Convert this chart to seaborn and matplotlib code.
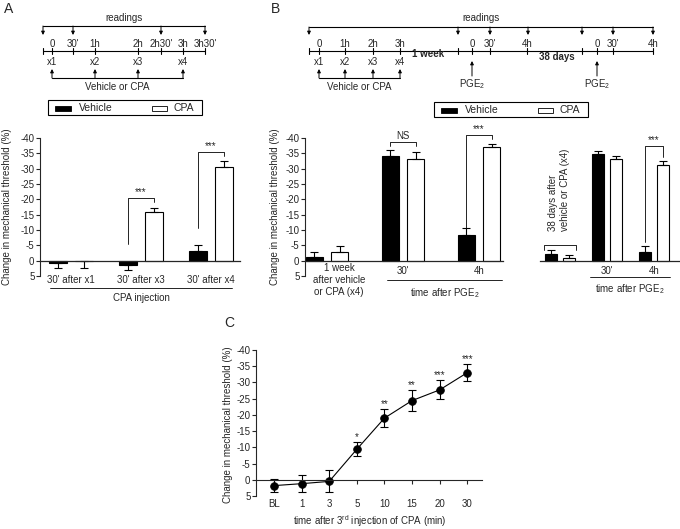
import numpy as np
import pandas as pd
import matplotlib
matplotlib.use('Agg')
import matplotlib.pyplot as plt
import matplotlib.transforms as mtransforms
from matplotlib.patches import Rectangle
import seaborn as sns

sns.set_style('ticks')
plt.rcParams['font.family'] = ['Liberation Sans', 'DejaVu Sans']
plt.rcParams['font.size'] = 7
plt.rcParams['axes.unicode_minus'] = False
plt.rcParams['mathtext.fontset'] = 'custom'
plt.rcParams['mathtext.rm'] = 'Liberation Sans'
plt.rcParams['mathtext.default'] = 'regular'

# ---- data (change in mechanical threshold, %; negative = hyperalgesia) ----
treatments = ['Vehicle', 'CPA']

a_groups = ["30' after x1", "30' after x3", "30' after x4"]
a_vehicle = [0.8, 1.3, -3.2]
a_vehicle_sem = [1.6, 1.6, 2.0]
a_cpa = [0.2, -16.0, -30.5]
a_cpa_sem = [2.2, 1.1, 1.9]

b_groups = ['1 week\nafter vehicle\nor CPA (x4)', "30'", '4h']
b_vehicle = [-1.2, -34.1, -8.4]
b_vehicle_sem = [1.7, 1.9, 2.2]
b_cpa = [-2.7, -33.3, -37.0]
b_cpa_sem = [2.2, 2.0, 1.0]

b2_groups = ['38 days after\nvehicle or CPA (x4)', "30'", '4h']
b2_vehicle = [-2.2, -34.8, -2.9]
b2_vehicle_sem = [1.4, 1.0, 2.0]
b2_cpa = [-0.9, -33.2, -31.2]
b2_cpa_sem = [0.8, 1.0, 1.3]

c_times = ['BL', '1', '3', '5', '10', '15', '20', '30']
c_mean = [1.8, 1.2, 0.5, -9.4, -19.0, -24.4, -27.7, -33.0]
c_sem = [1.9, 2.7, 3.4, 2.2, 2.8, 3.2, 2.9, 2.6]
c_stars = ['', '', '', '*', '**', '**', '***', '***']

yticks = np.arange(-40, 10, 5)
ylab = 'Change in mechanical threshold (%)'

W, H = 680, 529
fig = plt.figure(figsize=(W / 100, H / 100), dpi=100)


def px_axes(x0, y0, x1, y1):
    return fig.add_axes([x0 / W, 1 - y1 / H, (x1 - x0) / W, (y1 - y0) / H])


def bar_panel(ax, groups, veh, veh_sem, cpa, cpa_sem, width, gap, xlim, pad):
    df = pd.DataFrame({
        'group': groups * 2,
        'treatment': ['Vehicle'] * len(groups) + ['CPA'] * len(groups),
        'value': veh + cpa,
    })
    sns.barplot(data=df, x='group', y='value', hue='treatment', order=groups,
                hue_order=treatments, palette={'Vehicle': 'black', 'CPA': 'white'},
                edgecolor='black', linewidth=0.8, width=width, gap=gap, saturation=1,
                errorbar=None, legend=False, ax=ax)
    bars = sorted(ax.patches, key=lambda p: p.get_x())
    vals = [v for pair in zip(veh, cpa) for v in pair]
    sems = [e for pair in zip(veh_sem, cpa_sem) for e in pair]
    centers = []
    for bar, v, e in zip(bars, vals, sems):
        xc = bar.get_x() + bar.get_width() / 2
        centers.append(xc)
        lo, hi = (e, 0) if v <= 0 else (0, e)
        ax.errorbar(xc, v, yerr=[[lo], [hi]], fmt='none', ecolor='black',
                    elinewidth=0.8, capsize=3, capthick=0.8)
    ax.set_ylim(5, -40)
    ax.set_xlim(*xlim)
    ax.set_yticks(yticks)
    ax.set_yticklabels([str(t) for t in yticks])
    ax.set_xlabel('')
    ax.set_ylabel('')
    sns.despine(ax=ax, top=True, right=True)
    ax.spines['bottom'].set_position(('data', 0))
    ax.spines['bottom'].set_linewidth(0.9)
    ax.spines['left'].set_linewidth(0.8)
    ax.tick_params(axis='x', length=0, pad=pad)
    ax.tick_params(axis='y', length=3, width=0.8, pad=1)
    return centers


def sig(ax, x1, x2, y, y1, y2, label):
    ax.plot([x1, x1, x2, x2], [y1, y, y, y2], color='black', lw=0.6, clip_on=False)
    ax.text((x1 + x2) / 2, y - 0.3, label, ha='center', va='bottom', fontsize=7, clip_on=False)


# ---- panel A bars ----
ax_a = px_axes(40, 138, 240, 276)
ca = bar_panel(ax_a, a_groups, a_vehicle, a_vehicle_sem, a_cpa, a_cpa_sem,
               0.743, 0.31, (-0.443, 2.414), 10.5)
ax_a.set_ylabel(ylab)
ax_a.yaxis.set_label_coords(-0.14, 0.5)
sig(ax_a, ca[2], ca[3], -20.3, -5.5, -19.0, '***')
sig(ax_a, ca[4], ca[5], -35.4, -10.6, -34.0, '***')

# ---- panel B bars (left) ----
ax_b = px_axes(305, 138, 503, 276)
cb = bar_panel(ax_b, b_groups, b_vehicle, b_vehicle_sem, b_cpa, b_cpa_sem,
               0.668, 0.33, (-0.289, 2.316), 4)
ax_b.set_ylabel(ylab)
ax_b.yaxis.set_label_coords(-0.125, 0.5)
for lbl in ax_b.get_xticklabels():
    lbl.set_linespacing(1.25)
first = ax_b.get_xticklabels()[0]
first.set_transform(first.get_transform() +
                    mtransforms.ScaledTranslation(0.12, 0.03, fig.dpi_scale_trans))
sig(ax_b, cb[2], cb[3], -38.8, -37.4, -37.4, 'NS')
sig(ax_b, cb[4], cb[5], -41.0, -10.8, -39.7, '***')

# ---- panel B bars (right, 38 days) ----
ax_b2 = px_axes(540, 138, 680, 276)
cb2 = bar_panel(ax_b2, b2_groups, b2_vehicle, b2_vehicle_sem, b2_cpa, b2_cpa_sem,
                0.745, 0.31, (-0.426, 2.553), 4)
ax_b2.spines['left'].set_visible(False)
ax_b2.tick_params(axis='y', left=False, labelleft=False)
ax_b2.get_xticklabels()[0].set_visible(False)
sig(ax_b2, cb2[4], cb2[5], -37.4, -6.2, -33.8, '***')

# ---- panel C time course ----
ax_c = px_axes(256, 350, 482, 496)
dfc = pd.DataFrame({'time': c_times, 'change': c_mean})
sns.pointplot(data=dfc, x='time', y='change', order=c_times, color='black',
              markers='o', markersize=5.5, linewidth=0.8, errorbar=None, ax=ax_c)
xs = ax_c.lines[0].get_xdata()
ax_c.errorbar(xs, c_mean, yerr=c_sem, fmt='none', ecolor='black',
              elinewidth=0.8, capsize=3, capthick=0.8)
for x, v, e, s in zip(xs, c_mean, c_sem, c_stars):
    if s:
        ax_c.annotate(s, (x, v - e), xytext=(0, 0), textcoords='offset points',
                      ha='center', va='bottom', fontsize=7)
ax_c.set_ylim(5, -40)
ax_c.set_xlim(-0.652, 7.536)
ax_c.set_yticks(yticks)
ax_c.set_yticklabels([str(t) for t in yticks])
sns.despine(ax=ax_c)
ax_c.spines['bottom'].set_position(('data', 0))
ax_c.spines['bottom'].set_linewidth(0.8)
ax_c.spines['left'].set_linewidth(0.8)
ax_c.tick_params(axis='x', length=3, width=0.8, pad=11)
ax_c.tick_params(axis='y', length=3, width=0.8, pad=1)
ax_c.set_ylabel(ylab)
ax_c.yaxis.set_label_coords(-0.10, 0.486)
ax_c.set_xlabel('time after 3$^{rd}$ injection of CPA (min)')
ax_c.xaxis.set_label_coords(0.504, -0.115)

# ---- overlay: protocol timelines, legends, group labels ----
ov = fig.add_axes([0, 0, 1, 1], zorder=10)
ov.set_xlim(0, W)
ov.set_ylim(H, 0)
ov.axis('off')
K = dict(color='black', lw=0.8)


def arrow(x, y0, y1):
    ov.annotate('', xy=(x, y1), xytext=(x, y0),
                arrowprops=dict(arrowstyle='-|>', color='black', lw=0.7,
                                mutation_scale=5, shrinkA=0, shrinkB=0))


def timeline(read_x, tick_x, time_lbls, inj_x, y_top, label_x):
    ov.plot([read_x[0], read_x[-1]], [y_top, y_top], **K)
    for x in read_x:
        arrow(x, y_top, 35)
    ov.text(label_x, 18, 'readings', ha='center', va='center')
    ov.plot([tick_x[0], tick_x[-1]], [51, 51], **K)
    for x in tick_x:
        ov.plot([x, x], [48, 54], **K)
    for x, t in time_lbls:
        ov.text(x, 44, t, ha='center', va='center')
    for i, x in enumerate(inj_x):
        ov.text(x, 62, 'x%d' % (i + 1), ha='center', va='center')
        arrow(x, 78, 69)
    ov.plot([inj_x[0], inj_x[-1]], [78, 78], **K)
    ov.text((inj_x[0] + inj_x[-1]) / 2, 87, 'Vehicle or CPA', ha='center', va='center')


timeline([43, 73, 161, 205], [43, 52, 73, 95, 138, 161, 183, 205],
         [(52, '0'), (73, "30'"), (95, '1h'), (138, '2h'), (161, "2h30'"),
          (183, '3h'), (205, "3h30'")], [52, 95, 138, 183], 26, 124)
timeline([309, 458, 490, 528, 582, 613, 653],
         [309, 319, 345, 373, 400, 458, 472, 490, 527, 582, 597, 613, 653],
         [(319, '0'), (345, '1h'), (373, '2h'), (400, '3h'), (472, '0'), (490, "30'"),
          (527, '4h'), (597, '0'), (613, "30'"), (653, '4h')],
         [319, 345, 373, 400], 27, 481)
ov.text(428, 54, '1 week', ha='center', va='center', fontweight='bold')
ov.text(557, 57, '38 days', ha='center', va='center', fontweight='bold')
for x in [472, 597]:
    arrow(x, 76, 61)
    ov.text(x, 84, 'PGE$_2$', ha='center', va='center')


def legend_box(x0, y0):
    ov.add_patch(Rectangle((x0, y0), 154, 15, fill=False, lw=0.8, ec='black'))
    ov.add_patch(Rectangle((x0 + 7, y0 + 5.5), 16, 5, fc='black', ec='black', lw=0.6))
    ov.text(x0 + 31, y0 + 8, treatments[0], ha='left', va='center', fontsize=7.5)
    ov.add_patch(Rectangle((x0 + 104, y0 + 5.5), 15, 5, fc='white', ec='black', lw=0.6))
    ov.text(x0 + 125, y0 + 8, treatments[1], ha='left', va='center', fontsize=7.5)


legend_box(48, 100)
legend_box(434, 102)

# group labels under bar panels
ov.plot([50, 232], [288, 288], color='black', lw=0.6)
ov.text(141, 298, 'CPA injection', ha='center', va='center')
ov.plot([387, 502], [280, 280], color='black', lw=0.6)
ov.text(445, 293, 'time after PGE$_2$', ha='center', va='center')
ov.plot([590, 670], [277, 277], color='black', lw=0.6)
ov.text(630, 289, 'time after PGE$_2$', ha='center', va='center')
ov.text(559, 231, b2_groups[0], rotation=90, ha='center', va='bottom',
        multialignment='left', linespacing=1.25)
ov.plot([544, 544, 576, 576], [250, 245, 245, 250], color='black', lw=0.6)

# panel letters
ov.text(9, 9, 'A', fontsize=10, ha='center', va='center')
ov.text(275, 9, 'B', fontsize=10, ha='center', va='center')
ov.text(229, 323, 'C', fontsize=10, ha='center', va='center')

fig.savefig('out.png', dpi=100)
plt.close(fig)
